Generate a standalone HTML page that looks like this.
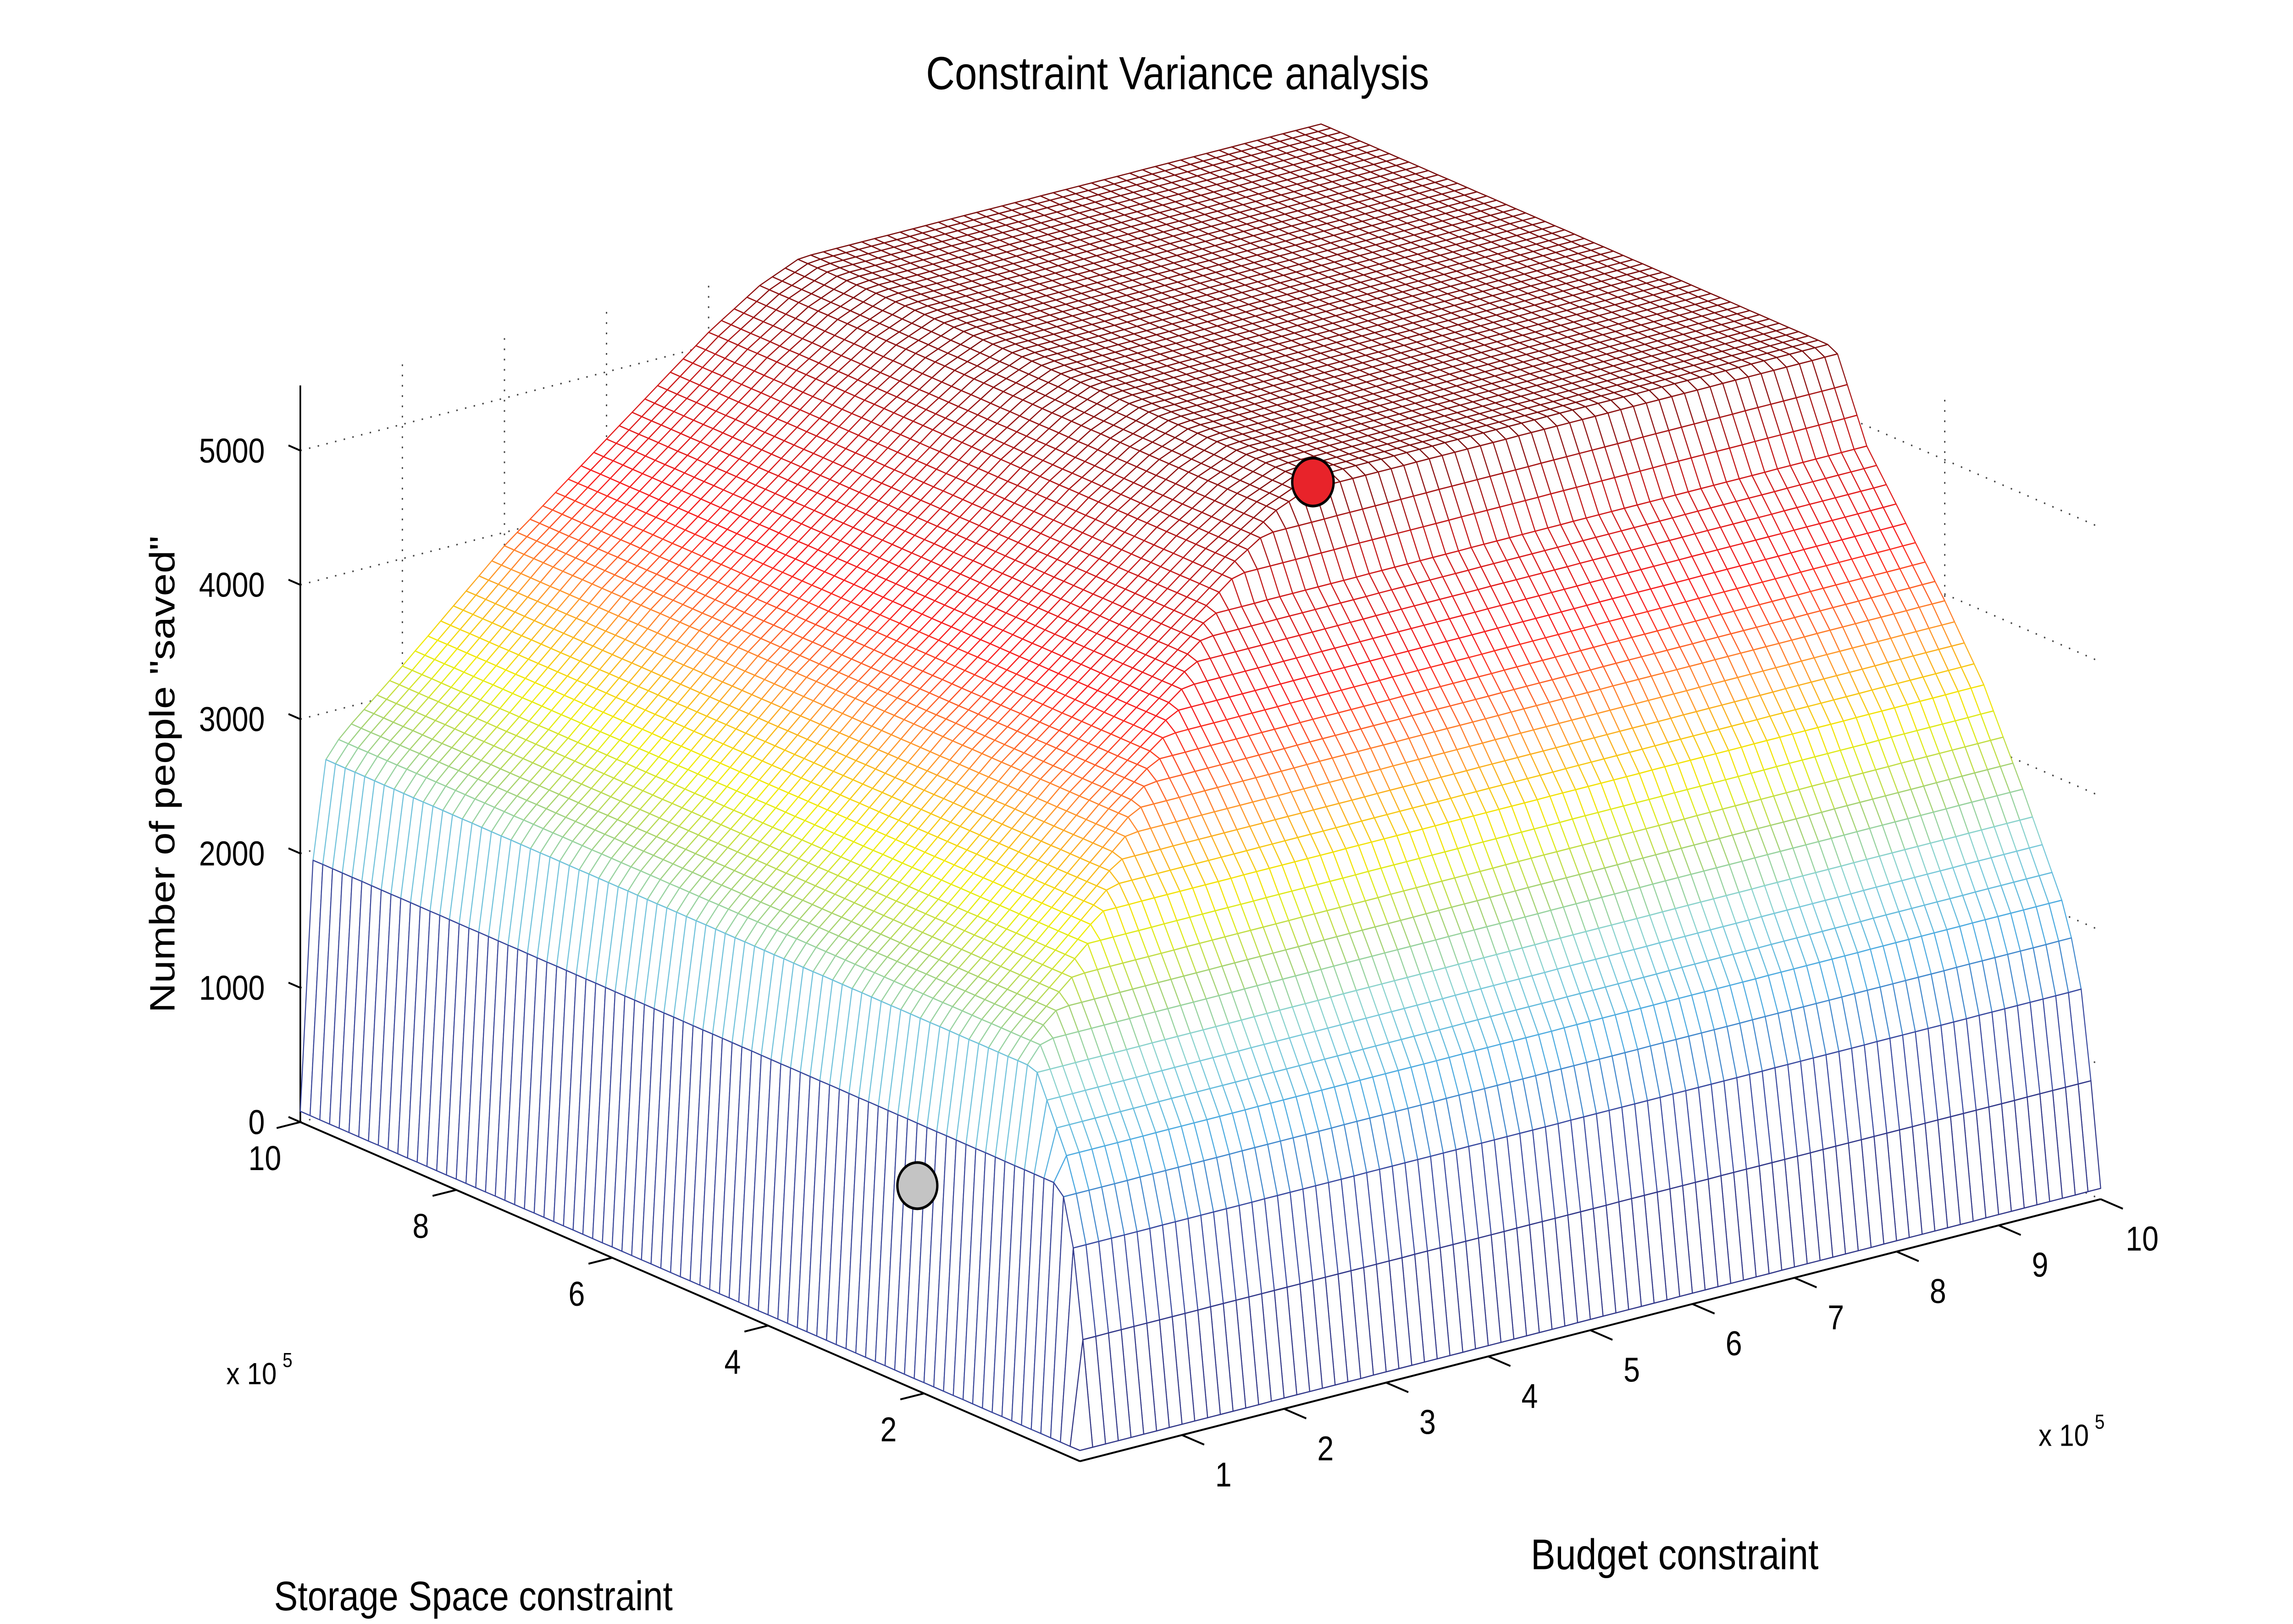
<!DOCTYPE html>
<html>
<head>
<meta charset="utf-8">
<style>
html,body{margin:0;padding:0;background:#fff;overflow:hidden;width:100%;height:100%;}
svg{display:block;width:100vw;height:100vh;}
text{font-family:"Liberation Sans",sans-serif;fill:#000;}
</style>
</head>
<body>
<svg id="chart" viewBox="0 0 1550 948" preserveAspectRatio="none" xmlns="http://www.w3.org/2000/svg">
  <rect x="0" y="0" width="1550" height="948" fill="#fff"/>
  <g id="walls"></g>
  <g id="axes"></g>
  <g id="surface"></g>
  <g id="markers"></g>
  <text x="796" y="52" font-size="27" text-anchor="middle">Constraint Variance analysis</text>
  <text transform="translate(118,452) rotate(-90)" font-size="24" text-anchor="middle">Number of people "saved"</text>
  <text x="1132" y="916" font-size="25" text-anchor="middle">Budget constraint</text>
  <text x="320" y="940" font-size="24" text-anchor="middle">Storage Space constraint</text>
  <text x="153" y="808" font-size="18">x 10<tspan dx="4" dy="-10" font-size="12">5</tspan></text>
  <text x="1378" y="844" font-size="18">x 10<tspan dx="4" dy="-10" font-size="12">5</tspan></text>
</svg>
<script>
// ---- data ----
const budgetKnots = [0, 0.1, 0.2, 0.4, 0.7, 1, 1.5, 2, 2.5, 3, 3.5, 4, 4.5, 4.9, 10];
const budgetValues = [80, 1700, 2600, 2800, 3000, 3200, 3550, 3900, 4200, 4500, 4800, 5100, 5350, 5480, 5480];
const storageKnots = [0, 0.1, 0.2, 0.3, 0.5, 0.75, 1, 1.5, 2, 2.5, 3, 3.4, 10];
const storageValues = [80, 700, 1300, 1700, 2100, 2450, 2800, 3450, 3950, 4400, 4850, 5480, 5480];
const zTicks = [0, 1000, 2000, 3000, 4000, 5000];
const budgetTicks = [1, 2, 3, 4, 5, 6, 7, 8, 9, 10];
const storageTicks = [2, 4, 6, 8, 10];
const redPoint = [4.88, 3.4, 5480];
const grayPoint = [0.05, 2.15, 1500];

const NS = "http://www.w3.org/2000/svg";
const O = [730, 853];
const ZMAX = 5485;
function P(b, s, z) {
  return [O[0] + b * 69 - s * 52.7, O[1] - b * 15.3 - s * 19.8 - z * 0.0784];
}
function interp(xs, ys, x) {
  if (x <= xs[0]) return ys[0];
  for (let i = 1; i < xs.length; i++) {
    if (x <= xs[i]) { const t = (x - xs[i-1]) / (xs[i] - xs[i-1]); return ys[i-1] + t * (ys[i] - ys[i-1]); }
  }
  return ys[ys.length - 1];
}
function Z(b, s) { return Math.min(interp(budgetKnots, budgetValues, b), interp(storageKnots, storageValues, s)); }

const cmapZ = [0, 1200, 1900, 2500, 2900, 3300, 3800, 4300, 4900, 5500];
const cmapC = [[45,45,122],[58,74,160],[70,165,225],[135,210,215],[165,210,110],[240,240,0],[255,145,45],[250,30,30],[200,25,25],[120,15,15]];
function color(z) {
  let i = 1; while (i < cmapZ.length - 1 && z > cmapZ[i]) i++;
  const t = Math.max(0, Math.min(1, (z - cmapZ[i-1]) / (cmapZ[i] - cmapZ[i-1])));
  const a = cmapC[i-1], c = cmapC[i];
  return "rgb(" + [0,1,2].map(k => Math.round(a[k] + t * (c[k] - a[k]))).join(",") + ")";
}
function mk(tag, attrs, parent) {
  const el = document.createElementNS(NS, tag);
  for (const k in attrs) el.setAttribute(k, attrs[k]);
  parent.appendChild(el);
  return el;
}
function line(parent, a, b, attrs) {
  return mk("line", Object.assign({x1: a[0].toFixed(2), y1: a[1].toFixed(2), x2: b[0].toFixed(2), y2: b[1].toFixed(2)}, attrs), parent);
}

// ---- back walls (dotted grid) ----
const walls = document.getElementById("walls");
const dot = {stroke: "#444", "stroke-width": "0.9", "stroke-dasharray": "1,5"};
zTicks.forEach(z => {
  const l1 = line(walls, P(0, 10, z), P(10, 10, z), dot);
  
  
  const l2 = line(walls, P(10, 10, z), P(10, 0, z), dot);
  
  
});
budgetTicks.forEach(b => {
  const l = line(walls, P(b, 10, 0), P(b, 10, ZMAX), dot);
  
  
});
storageTicks.forEach(s => {
  const l = line(walls, P(10, s, 0), P(10, s, ZMAX), dot);
  
  
});

// ---- axes ----
const axes = document.getElementById("axes");
const ax = {stroke: "#000", "stroke-width": "1.1"};
let a1 = line(axes, P(0, 10, 0), P(0, 10, ZMAX), ax);


let a2 = line(axes, P(0, 10, 0), P(0, 0, 0), ax);


let a3 = line(axes, P(0, 0, 0), P(10, 0, 0), ax);



zTicks.forEach(z => {
  const p = P(0, 10, z);
  const t = line(axes, p, [p[0] - 8, p[1] - 3], ax);
  
  
  const tx = mk("text", {x: 179, y: (p[1] + 7).toFixed(1), "font-size": 20, "text-anchor": "end"}, axes);
  tx.textContent = z;
  
  
});
storageTicks.forEach(s => {
  const p = P(0, s, 0);
  const t = line(axes, p, [p[0] - 16, p[1] + 3.5], ax);
  
  
  const tx = mk("text", {x: (p[0] - 24).toFixed(1), y: (p[1] + 28).toFixed(1), "font-size": 20, "text-anchor": "middle"}, axes);
  tx.textContent = s;
  
  
});
budgetTicks.forEach(b => {
  const p = P(b, 0, 0);
  const t = line(axes, p, [p[0] + 15, p[1] + 5.6], ax);
  
  
  const tx = mk("text", {x: (p[0] + 28).toFixed(1), y: (p[1] + 30).toFixed(1), "font-size": 20, "text-anchor": "middle"}, axes);
  tx.textContent = b;
  
  
});

// ---- surface ----
const surf = document.getElementById("surface");
const N = 80, step = 10 / N;
const cells = [];
for (let i = 0; i < N; i++) for (let j = 0; j < N; j++) {
  const b0 = i * step, b1 = (i + 1) * step, s0 = j * step, s1 = (j + 1) * step;
  cells.push({b0, b1, s0, s1, d: 15.3 * (b0 + b1) + 19.8 * (s0 + s1)});
}
cells.sort((x, y) => y.d - x.d);
cells.forEach(c => {
  const z00 = Z(c.b0, c.s0), z10 = Z(c.b1, c.s0), z11 = Z(c.b1, c.s1), z01 = Z(c.b0, c.s1);
  const pts = [P(c.b0, c.s0, z00), P(c.b1, c.s0, z10), P(c.b1, c.s1, z11), P(c.b0, c.s1, z01)];
  const poly = mk("polygon", {
    points: pts.map(p => p[0].toFixed(1) + "," + p[1].toFixed(1)).join(" "),
    fill: "#fff", stroke: color((z00 + z10 + z11 + z01) / 4), "stroke-width": "0.7", "stroke-linejoin": "round"
  }, surf);
  
  
});

// ---- markers ----
const markers = document.getElementById("markers");
const rp = P(redPoint[0], redPoint[1], redPoint[2]);
const rc = mk("circle", {cx: rp[0].toFixed(1), cy: rp[1].toFixed(1), r: 14, fill: "#e8232a", stroke: "#000", "stroke-width": "1.6"}, markers);


const gp = P(grayPoint[0], grayPoint[1], grayPoint[2]);
const gc = mk("circle", {cx: gp[0].toFixed(1), cy: gp[1].toFixed(1), r: 13.5, fill: "#c4c4c4", stroke: "#000", "stroke-width": "1.6"}, markers);


</script>
</body>
</html>
